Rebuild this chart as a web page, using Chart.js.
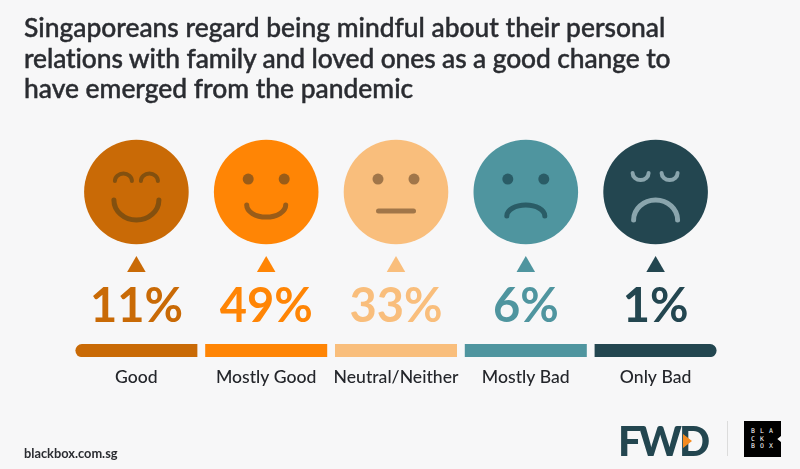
<!DOCTYPE html>
<html>
<head>
<meta charset="utf-8">
<script src="https://cdn.jsdelivr.net/npm/chart.js@4"></script>
<style>
    html, body { margin: 0; padding: 0; background: #f7f7f8; overflow: hidden; }
    #wrap { position: relative; width: 800px; height: 469px; font-family: Lato, sans-serif; color: #2a2c31; }
    #chartBox { position: absolute; left: 0; top: 0; width: 800px; height: 469px; }
    #title { position: absolute; left: 24px; top: 12px; margin: 0; font-size: 26.4px; line-height: 30.5px; font-weight: 500; white-space: nowrap; -webkit-text-stroke: 0.45px #2a2c31; }
    #title span { letter-spacing: -0.1px; }
    #site { position: absolute; left: 24px; top: 445px; font-size: 12.8px; line-height: 16px; font-weight: 700; }
    #fwd { position: absolute; left: 618px; top: 416px; font-size: 41px; line-height: 50px; font-weight: 900; letter-spacing: -2.8px; color: #234650; }
    #fwdMark { position: absolute; left: 683px; top: 434px; width: 9px; height: 14px; background: #f58a1f; clip-path: polygon(0 0, 100% 50%, 0 100%); }
    #divider { position: absolute; left: 727px; top: 421px; width: 1px; height: 35px; background: #dcdcdc; }
    #bbox { position: absolute; left: 744px; top: 421px; width: 37px; height: 36px; background: #000; clip-path: polygon(0 0, 100% 0, 100% 42%, 90% 50%, 100% 58%, 100% 100%, 0 100%); }
    #bbox span { position: absolute; color: #fff; font: 6.5px/7px "DejaVu Sans Mono", monospace; width: 8px; text-align: center; }
</style>
</head>
<body>
<div id="wrap">
    <div id="chartBox"><canvas id="moodChart"></canvas></div>
    <h1 id="title">Singaporeans regard being mindful about their personal<br><span>relations with family and loved ones as a good change to</span><br>have emerged from the pandemic</h1>
    <div id="site">blackbox.com.sg</div>
    <div id="fwd">FWD</div>
    <div id="fwdMark"></div>
    <div id="divider"></div>
    <div id="bbox"></div>
</div>
<script>
// --- 1. DATA ---
const categories = ['Good', 'Mostly Good', 'Neutral/Neither', 'Mostly Bad', 'Only Bad'];
const shares = [11, 49, 33, 6, 1];
const moodColors = ['#c96a06', '#ff8505', '#f9be7c', '#4f959f', '#234650'];
const featureColors = ['#83500f', '#9a5c18', '#a17649', '#2a5c66', '#8aa5ad'];
const bboxLetters = [['B', 'L', 'A'], ['C', 'K', ''], ['B', 'O', 'X']];

// y scale runs in pixels up from the strip's lower edge
const STRIP_HEIGHT = 13;
const FACE_LEVEL = 165;
const ARROW_LEVEL = 90.3;

// --- 2. FACES, DRAWN ON TOP OF THE CIRCLE POINTS ---
function arcStroke(ctx, cx, cy, rx, ry, start, end, width) {
    ctx.lineWidth = width;
    ctx.beginPath();
    ctx.ellipse(cx, cy, rx, ry, 0, start, end);
    ctx.stroke();
}

function dots(ctx, x, y) {
    [-18, 18].forEach((dx) => {
        ctx.beginPath();
        ctx.arc(x + dx, y - 13, 5.5, 0, Math.PI * 2);
        ctx.fill();
    });
}

const faceDrawers = [
    (ctx, x, y) => {
        arcStroke(ctx, x - 13, y - 11, 8.5, 7.5, Math.PI, 0, 4);
        arcStroke(ctx, x + 13, y - 11, 8.5, 7.5, Math.PI, 0, 4);
        arcStroke(ctx, x, y + 8, 22.5, 20, 0, Math.PI, 5);
    },
    (ctx, x, y) => {
        dots(ctx, x, y);
        arcStroke(ctx, x, y + 13, 19.5, 12, 0, Math.PI, 5);
    },
    (ctx, x, y) => {
        dots(ctx, x, y);
        ctx.lineWidth = 5;
        ctx.beginPath();
        ctx.moveTo(x - 17.5, y + 19);
        ctx.lineTo(x + 17.5, y + 19);
        ctx.stroke();
    },
    (ctx, x, y) => {
        dots(ctx, x, y);
        arcStroke(ctx, x, y + 24, 19, 11, Math.PI, 0, 5);
    },
    (ctx, x, y) => {
        arcStroke(ctx, x - 15, y - 19, 8, 7, 0, Math.PI, 4);
        arcStroke(ctx, x + 14, y - 19, 8, 7, 0, Math.PI, 4);
        arcStroke(ctx, x, y + 28, 22, 20, Math.PI, 0, 5);
    }
];

const moodPlugin = {
    id: 'moodPlugin',
    afterDatasetsDraw(chart) {
        const { ctx, scales } = chart;
        ctx.save();
        categories.forEach((name, i) => {
            const x = scales.x.getPixelForValue(i);
            const faceY = scales.y.getPixelForValue(FACE_LEVEL);
            ctx.strokeStyle = featureColors[i];
            ctx.fillStyle = featureColors[i];
            ctx.lineCap = 'round';
            faceDrawers[i](ctx, x, faceY);

            ctx.fillStyle = moodColors[i];
            ctx.font = '700 47px Lato, sans-serif';
            ctx.textAlign = 'center';
            ctx.textBaseline = 'alphabetic';
            ctx.fillText(`${shares[i]}%`, x, 322);
        });
        ctx.restore();
    }
};

// --- 3. CHART ---
new Chart(document.getElementById('moodChart'), {
    data: {
        labels: categories,
        datasets: [
            {
                type: 'bar',
                data: categories.map(() => [0, STRIP_HEIGHT]),
                backgroundColor: moodColors,
                barPercentage: 0.94,
                categoryPercentage: 1,
                borderSkipped: false,
                borderRadius: (c) => {
                    if (c.dataIndex === 0) return { topLeft: 7, bottomLeft: 7, topRight: 0, bottomRight: 0 };
                    if (c.dataIndex === categories.length - 1) return { topLeft: 0, bottomLeft: 0, topRight: 7, bottomRight: 7 };
                    return 0;
                }
            },
            {
                type: 'line',
                data: categories.map(() => FACE_LEVEL),
                showLine: false,
                pointRadius: 52.3,
                pointStyle: 'circle',
                borderWidth: 0,
                pointBorderWidth: 0,
                pointBackgroundColor: moodColors,
                clip: false
            },
            {
                type: 'line',
                data: categories.map(() => ARROW_LEVEL),
                showLine: false,
                pointRadius: 10.7,
                pointStyle: 'triangle',
                pointBorderWidth: 0,
                pointBackgroundColor: moodColors,
                clip: false
            }
        ]
    },
    options: {
        responsive: true,
        maintainAspectRatio: false,
        animation: false,
        // big point radii would otherwise push the plot area down
        layout: { autoPadding: false, padding: { left: 71.5, right: 79.5, top: 0, bottom: 78.8 } },
        plugins: { legend: { display: false }, tooltip: { enabled: false } },
        scales: {
            x: {
                grid: { display: false },
                border: { display: false },
                ticks: {
                    color: '#24262b',
                    font: { family: 'Lato, sans-serif', size: 17.6, weight: '500' },
                    padding: 2,
                    maxRotation: 0,
                    autoSkip: false
                }
            },
            y: { display: false, min: 0, max: 357 }
        }
    },
    plugins: [moodPlugin]
});

// --- 4. BLACK BOX LOGO LETTERS ---
const bbox = document.getElementById('bbox');
bboxLetters.forEach((row, r) => {
    row.forEach((letter, c) => {
        const span = document.createElement('span');
        span.textContent = letter;
        span.style.left = `${5 + c * 9}px`;
        span.style.top = `${7 + r * 7.5}px`;
        bbox.appendChild(span);
    });
});
</script>
</body>
</html>
